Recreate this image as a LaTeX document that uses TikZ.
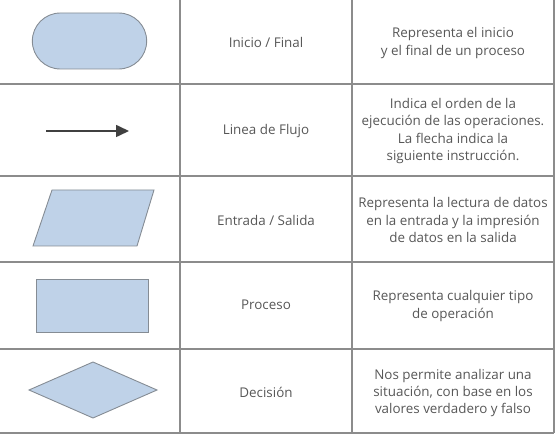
\documentclass[tikz,border=0pt]{standalone}
\usepackage{fontspec}
\setmainfont{Open Sans}
\usetikzlibrary{shapes.geometric,shapes.misc,arrows.meta}
\definecolor{shapefill}{HTML}{BFD2E8}
\definecolor{shapeline}{HTML}{858C94}
\definecolor{gridline}{HTML}{8C8C8C}
\definecolor{txt}{HTML}{575757}
\begin{document}
\begin{tikzpicture}[x=1pt,y=-1pt,
  symb/.style={fill=shapefill,draw=shapeline,line width=0.9pt},
  grid/.style={draw=gridline,line width=1.1pt},
  label/.style={text=txt,font=\fontsize{13.4}{17.3}\selectfont,align=center,inner sep=0pt},
  flow/.style={draw=black!75,line width=1.6pt,-{Triangle[length=13pt,width=12pt]}}]
\useasboundingbox (0,0) rectangle (556,435);
% grid
\draw[grid] (0,84) -- (554,84) (0,176) -- (554,176) (0,262) -- (554,262) (0,349) -- (554,349) (0,433) -- (554,433);
\draw[grid] (180,0) -- (180,433) (352,0) -- (352,433) (554,0) -- (554,433);
% symbols
\node[symb,rounded rectangle,minimum width=121pt,minimum height=56pt] (term) at (89.5,41) {};
\coordinate (fa) at (46,131);
\coordinate (fb) at (129,131);
\draw[flow] (fa) -- (fb);
\draw[symb] (52,190) -- (154,190) -- (137,246) -- (33,246) -- cycle;
\node[symb,rectangle,minimum width=112pt,minimum height=53pt] (proc) at (92,305.5) {};
\draw[symb] (93,362) -- (157,390) -- (93,418) -- (29,390) -- cycle;
% middle labels
\node[label] (l1) at (266,42) {Inicio / Final};
\node[label] (l2) at (266,131) {Linea de Flujo};
\node[label] (l3) at (266,220) {Entrada / Salida};
\node[label] (l4) at (266,305) {Proceso};
\node[label] (l5) at (266,392) {Decisión};
% descriptions
\node[label] (d1) at (453,43) {Representa el inicio\\y el final de un proceso};
\node[label] (d2) at (453,131) {Indica el orden de la\\ejecución de las operaciones.\\La flecha indica la\\siguiente instrucción.};
\node[label] (d3) at (453,220) {Representa la lectura de datos\\en la entrada y la impresión\\de datos en la salida};
\node[label] (d4) at (453,306) {Representa cualquier tipo\\de operación};
\node[label] (d5) at (453,393) {Nos permite analizar una\\situación, con base en los\\valores verdadero y falso};
\end{tikzpicture}
\end{document}
